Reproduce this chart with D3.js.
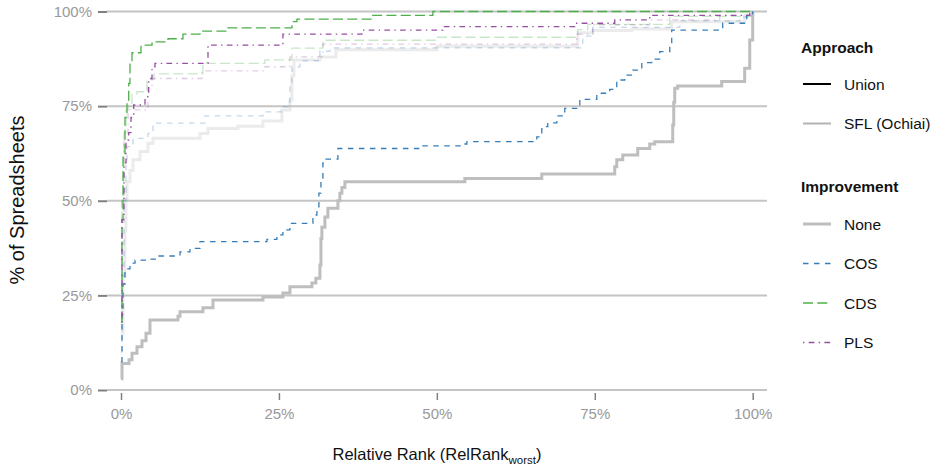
<!DOCTYPE html>
<html><head><meta charset="utf-8">
<script src="https://cdn.jsdelivr.net/npm/d3@7"></script>
<style>body{margin:0;background:#fff}svg{display:block;font-family:"Liberation Sans",Arial,sans-serif}</style>
</head><body><svg id="c" width="936" height="470"></svg>
<script>
// ECDF step points: [relative rank, share of spreadsheets]
const unionNone = [[0,0.03],[0.0016,0.07],[0.0127,0.08],[0.0174,0.097],[0.0253,0.114],[0.0332,0.13],[0.0396,0.15],[0.0459,0.185],[0.0902,0.195],[0.0934,0.207],[0.1297,0.217],[0.1456,0.238],[0.2247,0.246],[0.2563,0.256],[0.2674,0.273],[0.3022,0.283],[0.3085,0.295],[0.3149,0.33],[0.3165,0.40],[0.318,0.43],[0.3228,0.457],[0.3275,0.48],[0.3434,0.50],[0.3465,0.52],[0.3497,0.535],[0.3544,0.55],[0.5443,0.559],[0.6661,0.571],[0.7816,0.59],[0.7848,0.608],[0.7943,0.621],[0.818,0.638],[0.837,0.65],[0.8449,0.656],[0.8734,0.70],[0.875,0.76],[0.8766,0.797],[0.8813,0.803],[0.9509,0.815],[0.9873,0.85],[0.9953,0.925],[1,1]];
const unionCos = [[0,0.075],[0.0016,0.2],[0.0032,0.28],[0.0063,0.32],[0.0142,0.335],[0.0222,0.343],[0.0411,0.346],[0.057,0.354],[0.0934,0.365],[0.1092,0.374],[0.125,0.392],[0.231,0.398],[0.2468,0.41],[0.2563,0.423],[0.2674,0.44],[0.3038,0.462],[0.3101,0.484],[0.3133,0.52],[0.3165,0.56],[0.3196,0.6],[0.3244,0.61],[0.3434,0.638],[0.4731,0.645],[0.5396,0.65],[0.5475,0.656],[0.6582,0.669],[0.6661,0.696],[0.6756,0.706],[0.6899,0.724],[0.7025,0.744],[0.7263,0.768],[0.7532,0.784],[0.7737,0.794],[0.7848,0.819],[0.7975,0.832],[0.8101,0.845],[0.8244,0.865],[0.8402,0.874],[0.8528,0.894],[0.8687,0.91],[0.8718,0.951],[0.9525,0.969],[0.9905,0.99],[1,1]];
const unionCds = [[0,0.18],[0.0016,0.45],[0.0032,0.62],[0.0063,0.72],[0.0095,0.766],[0.0122,0.81],[0.0142,0.867],[0.0174,0.891],[0.0316,0.911],[0.0491,0.92],[0.0744,0.928],[0.0981,0.94],[0.125,0.948],[0.1693,0.957],[0.2706,0.973],[0.2785,0.98],[0.3972,0.99],[0.4937,1],[1,1]];
const unionPls = [[0,0.18],[0.0016,0.45],[0.0047,0.6],[0.0079,0.66],[0.0122,0.68],[0.0158,0.72],[0.0201,0.753],[0.038,0.775],[0.0438,0.823],[0.0491,0.854],[0.0538,0.863],[0.1377,0.911],[0.2563,0.94],[0.3813,0.951],[0.5095,0.96],[0.7184,0.969],[0.7816,0.978],[0.837,0.99],[0.9953,1],[1,1]];
const sflNone = [[0,0.15],[0.0032,0.3],[0.0063,0.42],[0.0079,0.5],[0.0095,0.55],[0.0142,0.58],[0.019,0.608],[0.0301,0.63],[0.0427,0.652],[0.0506,0.665],[0.125,0.678],[0.1377,0.691],[0.1851,0.697],[0.2247,0.711],[0.2547,0.74],[0.2674,0.766],[0.2706,0.83],[0.2737,0.872],[0.3149,0.88],[0.3402,0.899],[0.5,0.908],[0.7231,0.944],[0.7468,0.95],[0.8085,0.954],[0.8718,0.973],[0.9873,0.99],[1,1]];
const sflCos = [[0,0.1],[0.0016,0.3],[0.0047,0.5],[0.0079,0.6],[0.0095,0.643],[0.019,0.665],[0.0427,0.678],[0.0506,0.705],[0.1329,0.724],[0.2247,0.735],[0.2563,0.748],[0.2674,0.80],[0.2706,0.854],[0.2832,0.87],[0.3149,0.895],[0.3307,0.904],[0.731,0.935],[0.7468,0.958],[0.8845,0.975],[0.9794,0.985],[1,1]];
const sflCds = [[0,0.18],[0.0016,0.5],[0.0047,0.68],[0.0079,0.74],[0.0111,0.758],[0.0174,0.78],[0.0253,0.788],[0.0411,0.82],[0.0522,0.835],[0.1297,0.863],[0.2278,0.872],[0.2706,0.903],[0.3196,0.924],[0.5,0.932],[0.7231,0.952],[0.7389,0.966],[0.8687,0.987],[1,1]];
const sflPls = [[0,0.18],[0.0016,0.5],[0.0047,0.66],[0.0111,0.74],[0.0427,0.80],[0.0491,0.823],[0.1282,0.843],[0.2278,0.854],[0.2674,0.88],[0.3196,0.914],[0.7215,0.94],[0.7468,0.965],[0.837,0.978],[0.9478,0.99],[1,1]];

const xTicks = [0, 0.25, 0.5, 0.75, 1];
const yTicks = [0, 0.25, 0.5, 0.75, 1];
const approaches = ["Union", "SFL (Ochiai)"];
const improvements = ["None", "COS", "CDS", "PLS"];

const impStyle = {
  None: {color: "#bebebe", width: 3, dash: null},
  COS:  {color: "#377eb8", width: 1.3, dash: "5.5,5.5"},
  CDS:  {color: "#4daf4a", width: 1.3, dash: "10,4.3"},
  PLS:  {color: "#984ea3", width: 1.3, dash: "1.4,4.3,5.7,4.3"}
};
const apprAlpha = {"Union": 1, "SFL (Ochiai)": 0.3};

const series = [
  {a: "SFL (Ochiai)", i: "None", data: sflNone},
  {a: "SFL (Ochiai)", i: "COS", data: sflCos},
  {a: "SFL (Ochiai)", i: "CDS", data: sflCds},
  {a: "SFL (Ochiai)", i: "PLS", data: sflPls},
  {a: "Union", i: "None", data: unionNone},
  {a: "Union", i: "COS", data: unionCos},
  {a: "Union", i: "CDS", data: unionCds},
  {a: "Union", i: "PLS", data: unionPls}
];

const svg = d3.select("#c");
const x = d3.scaleLinear().domain([0, 1]).range([121, 752.7]);
const y = d3.scaleLinear().domain([0, 1]).range([390, 11.5]);
const pct = d3.format(".0%");
const panelL = 107, panelR = 767;

// gridlines
svg.append("g").selectAll("line").data(yTicks).join("line")
  .attr("x1", panelL).attr("x2", panelR)
  .attr("y1", d => y(d)).attr("y2", d => y(d))
  .attr("stroke", "#c4c4c4").attr("stroke-width", 2);

// y axis
const yAxis = svg.append("g").attr("transform", `translate(${panelL},0)`)
  .call(d3.axisLeft(y).tickValues(yTicks).tickFormat(pct).tickSize(9).tickPadding(6));
yAxis.select(".domain").remove();
yAxis.selectAll(".tick line").attr("stroke", "#808080").attr("stroke-width", 2);
yAxis.selectAll(".tick text").attr("fill", "#999999").attr("font-size", 15).attr("font-family", "Liberation Sans, Arial, sans-serif");

// x axis
const xAxis = svg.append("g").attr("transform", `translate(0,393)`)
  .call(d3.axisBottom(x).tickValues(xTicks).tickFormat(pct).tickSize(7).tickPadding(8));
xAxis.select(".domain").remove();
xAxis.selectAll(".tick line").attr("stroke", "#808080").attr("stroke-width", 1.5);
xAxis.selectAll(".tick text").attr("fill", "#999999").attr("font-size", 15).attr("font-family", "Liberation Sans, Arial, sans-serif");

// lines
const line = d3.line().x(d => x(d[0])).y(d => y(d[1])).curve(d3.curveStepAfter);
svg.append("g").selectAll("path").data(series).join("path")
  .attr("d", d => line(d.data))
  .attr("fill", "none")
  .attr("stroke", d => impStyle[d.i].color)
  .attr("stroke-width", d => impStyle[d.i].width)
  .attr("stroke-dasharray", d => impStyle[d.i].dash)
  .attr("stroke-opacity", d => apprAlpha[d.a]);

// axis titles
svg.append("text").attr("transform", "translate(24,200) rotate(-90)")
  .attr("text-anchor", "middle").attr("font-size", 20).attr("fill", "#111")
  .text("% of Spreadsheets");
const xt = svg.append("text").attr("x", 437).attr("y", 460)
  .attr("text-anchor", "middle").attr("font-size", 16.5).attr("fill", "#111");
xt.append("tspan").text("Relative Rank (RelRank");
xt.append("tspan").attr("font-size", 11.5).attr("dy", 3.5).text("worst");
xt.append("tspan").attr("dy", -3.5).text(")");

// legend
const lg = svg.append("g").attr("font-size", 15.5).attr("fill", "#111");
lg.append("text").attr("x", 801).attr("y", 53).attr("font-weight", "bold").text("Approach");
approaches.forEach((a, k) => {
  const yy = 84 + k * 39.5;
  lg.append("line").attr("x1", 803).attr("x2", 831).attr("y1", yy).attr("y2", yy)
    .attr("stroke", "#000").attr("stroke-opacity", apprAlpha[a]).attr("stroke-width", 2);
  lg.append("text").attr("x", 844).attr("y", yy + 5.5).text(a);
});
lg.append("text").attr("x", 801).attr("y", 192).attr("font-weight", "bold").text("Improvement");
improvements.forEach((m, k) => {
  const yy = 224 + k * 39.5;
  const s = impStyle[m];
  lg.append("line").attr("x1", 803).attr("x2", 831).attr("y1", yy).attr("y2", yy)
    .attr("stroke", s.color).attr("stroke-width", s.width).attr("stroke-dasharray", s.dash);
  lg.append("text").attr("x", 844).attr("y", yy + 5.5).text(m);
});
</script></body></html>
